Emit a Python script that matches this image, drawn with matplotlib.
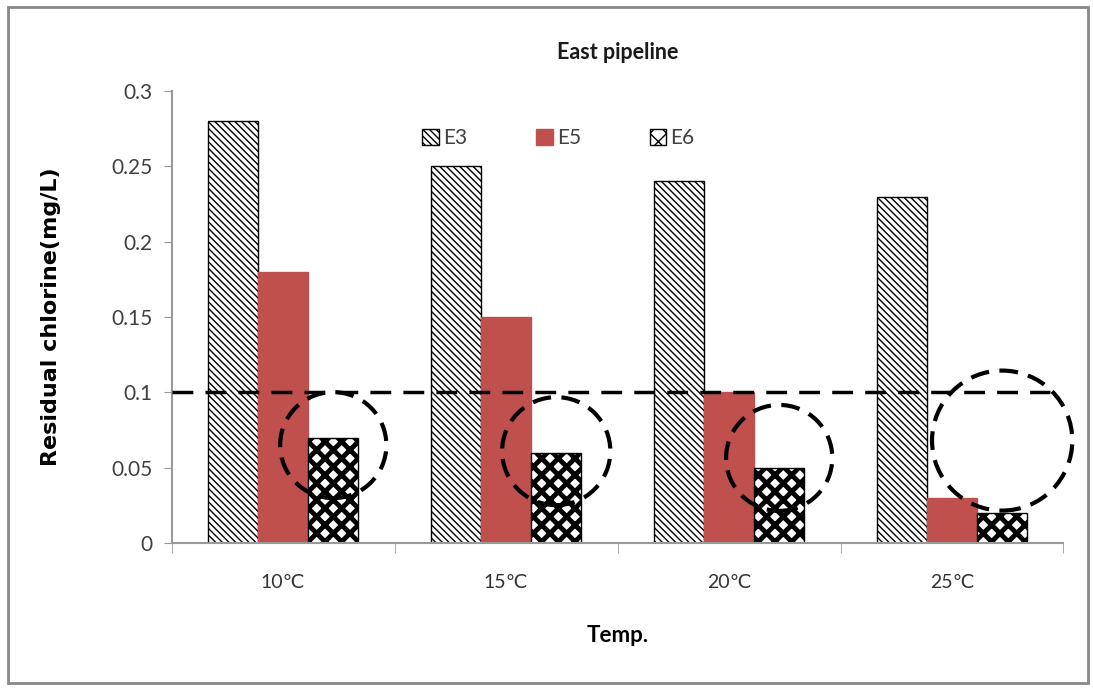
import numpy as np
import matplotlib
matplotlib.use("Agg")
import matplotlib.pyplot as plt
from matplotlib.patches import Ellipse, Rectangle

plt.rcParams['font.family'] = ['Lato', 'DejaVu Sans']

# data
temps = ['10\u2103', '15\u2103', '20\u2103', '25\u2103']
e3 = [0.28, 0.25, 0.24, 0.23]
e5 = [0.18, 0.15, 0.10, 0.03]
e6 = [0.07, 0.06, 0.05, 0.02]
limit = 0.1
# dashed circles marking the E6 values (centre y, radius in px)
circle_y = [0.065, 0.061, 0.0565, 0.068]
circle_r = [53, 54, 53, 70]

fig = plt.figure(figsize=(10.93, 6.9), dpi=100)
ax = fig.add_axes([0.157, 0.213, 0.816, 0.655])

x = np.arange(len(temps))
w = 0.225

with plt.rc_context({'hatch.linewidth': 1.0}):
    b3 = ax.bar(x - w, e3, w, color='white', edgecolor='black', hatch='\\\\\\\\\\',
                linewidth=1.0, label='E3', zorder=2)
b5 = ax.bar(x, e5, w, color='#C0504D', edgecolor='#C0504D', label='E5', zorder=2)
with plt.rc_context({'hatch.linewidth': 3.5}):
    b6 = ax.bar(x + w, e6, w, color='white', edgecolor='black', hatch='xx',
                linewidth=1.0, label='E6', zorder=2)

ax.axhline(limit, xmin=0, xmax=0.985, color='black', lw=2.5, ls=(0, (6, 3.5)), zorder=3)

# circles: convert pixel radius to data units
px_x = 222.5
px_y = 452 / 0.3
for i in range(len(temps)):
    r = circle_r[i]
    ax.add_patch(Ellipse((x[i] + w, circle_y[i]), 2 * r / px_x, 2 * r / px_y,
                         fill=False, edgecolor='black', lw=3, ls=(0, (4.5, 2.5)),
                         zorder=4, clip_on=False))

ax.set_xlim(-0.5, 3.5)
ax.set_ylim(0, 0.3)
ax.set_yticks([0, 0.05, 0.1, 0.15, 0.2, 0.25, 0.3])
ax.set_yticklabels(['0', '0.05', '0.1', '0.15', '0.2', '0.25', '0.3'])
ax.set_xticks(x)
ax.set_xticklabels(temps)
ax.set_xticks(np.arange(-0.5, 3.6, 1), minor=True)
ax.tick_params(axis='x', which='major', length=0, pad=22, labelsize=14, labelcolor='#333333')
ax.tick_params(axis='x', which='minor', length=7, color='#999999', direction='out')
ax.tick_params(axis='y', length=6, color='#999999', labelsize=15, labelcolor='#404040', pad=8)

for s in ['top', 'right']:
    ax.spines[s].set_visible(False)
for s in ['left', 'bottom']:
    ax.spines[s].set_color('#999999')
    ax.spines[s].set_linewidth(1.5)

ax.set_title('East pipeline', fontsize=15.5, fontweight='bold', pad=23, color='#1a1a1a')
ax.set_ylabel('Residual chlorine(mg/L)', fontsize=16, fontweight='bold', labelpad=36,
              family=['DejaVu Sans'])
ax.set_xlabel('Temp.', fontsize=16, fontweight='bold', labelpad=25)

ax.legend(loc='upper left', bbox_to_anchor=(0.26, 0.96), ncol=3, frameon=False,
          fontsize=15, handlelength=0.8, handleheight=0.8, handletextpad=0.2,
          columnspacing=3.3, labelcolor='#404040')

# outer frame of the picture
fig.patches.append(Rectangle((0.007, 0.01), 0.988, 0.98, transform=fig.transFigure,
                             fill=False, edgecolor='#888888', lw=2))

fig.savefig('out.png', dpi=100)
